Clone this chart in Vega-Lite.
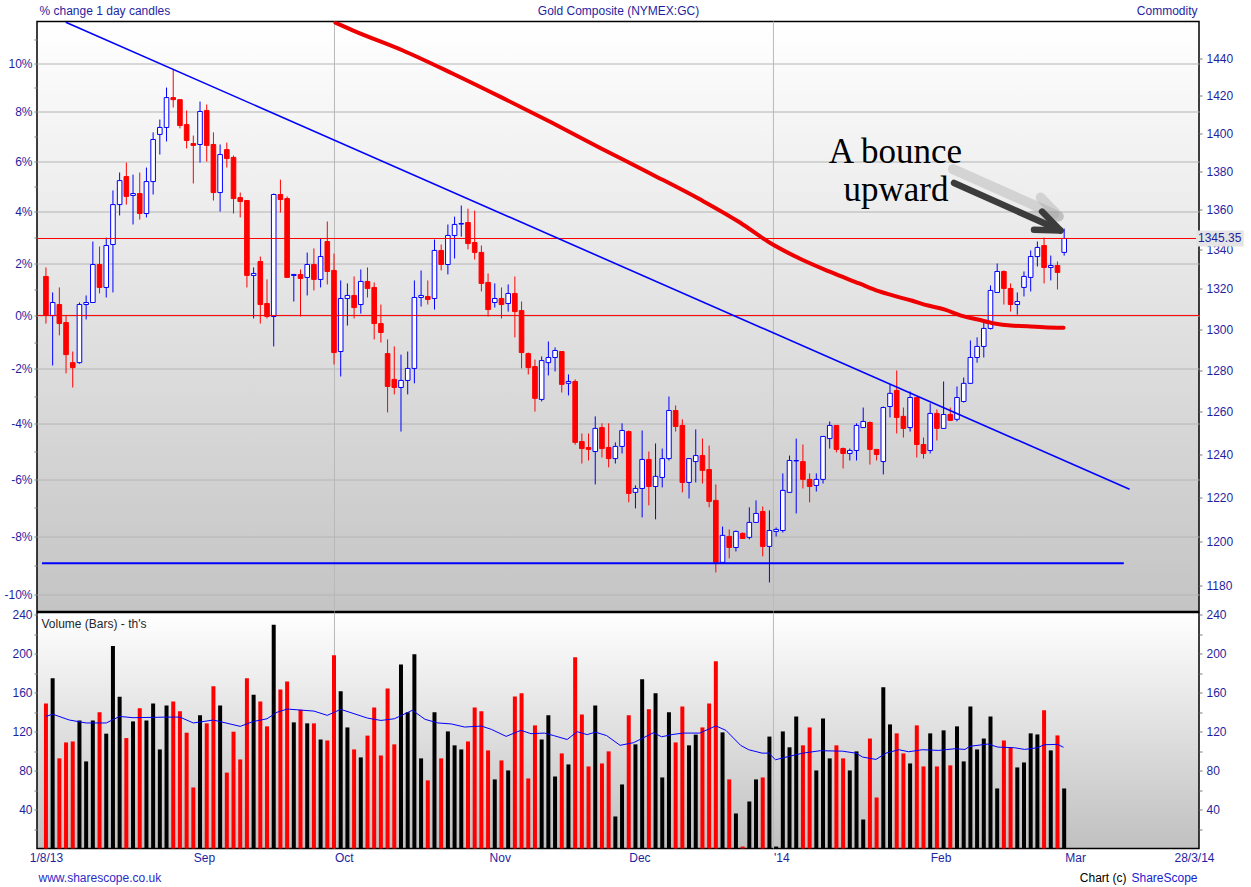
{
  "$schema": "https://vega.github.io/schema/vega-lite/v6.json",
  "padding": {"left": 3, "top": 3.5, "right": 0, "bottom": 0},
  "background": "#ffffff",
  "spacing": 1,
  "bounds": "flush",
  "config": {
    "font": "Liberation Sans",
    "axis": {
      "labelFont": "Liberation Sans", "labelFontSize": 12, "labelColor": "#1f1f9f",
      "titleFont": "Liberation Sans", "titleFontSize": 12, "titleFontWeight": "normal", "titleColor": "#1f1f9f",
      "tickColor": "#7a7a7a", "domain": false
    }
  },
  "datasets": {
    "candles": [
      {"t":0,"o":1326.2,"h":1330.7,"l":1302.8,"c":1306.8,"v":149},
      {"t":1,"o":1306.8,"h":1318.2,"l":1282.3,"c":1313.2,"v":175},
      {"t":2,"o":1312.2,"h":1320.7,"l":1297.0,"c":1302.8,"v":92.6},
      {"t":3,"o":1303.3,"h":1306.8,"l":1278.5,"c":1287.6,"v":109},
      {"t":4,"o":1283.7,"h":1289.1,"l":1271.7,"c":1281.3,"v":110},
      {"t":5,"o":1283.7,"h":1313.2,"l":1283.2,"c":1312.2,"v":131.6},
      {"t":6,"o":1312.2,"h":1316.7,"l":1304.8,"c":1313.2,"v":89.5},
      {"t":7,"o":1313.2,"h":1343.8,"l":1313.2,"c":1332.2,"v":131.6},
      {"t":8,"o":1332.2,"h":1341.3,"l":1317.7,"c":1320.7,"v":140},
      {"t":9,"o":1320.7,"h":1345.8,"l":1315.7,"c":1341.8,"v":118},
      {"t":10,"o":1342.3,"h":1370.0,"l":1318.2,"c":1362.7,"v":208},
      {"t":11,"o":1362.7,"h":1379.3,"l":1357.1,"c":1375.1,"v":156},
      {"t":12,"o":1377.2,"h":1384.5,"l":1362.7,"c":1366.9,"v":113.5},
      {"t":13,"o":1367.4,"h":1378.2,"l":1352.5,"c":1368.4,"v":130.6},
      {"t":14,"o":1368.4,"h":1379.3,"l":1355.0,"c":1358.1,"v":144},
      {"t":15,"o":1358.1,"h":1381.9,"l":1356.1,"c":1374.6,"v":131.6},
      {"t":16,"o":1374.6,"h":1400.4,"l":1367.9,"c":1396.6,"v":149},
      {"t":17,"o":1399.3,"h":1407.2,"l":1388.7,"c":1403.0,"v":101.8},
      {"t":18,"o":1403.0,"h":1424.3,"l":1395.6,"c":1418.9,"v":147},
      {"t":19,"o":1418.9,"h":1434.0,"l":1413.6,"c":1417.8,"v":151},
      {"t":20,"o":1417.8,"h":1417.8,"l":1402.5,"c":1404.0,"v":141},
      {"t":21,"o":1404.5,"h":1412.0,"l":1391.9,"c":1396.1,"v":119},
      {"t":22,"o":1394.5,"h":1398.7,"l":1373.6,"c":1393.5,"v":62.7},
      {"t":23,"o":1394.0,"h":1416.8,"l":1384.5,"c":1411.5,"v":136.8},
      {"t":24,"o":1412.0,"h":1415.2,"l":1385.0,"c":1393.5,"v":128.6},
      {"t":25,"o":1394.0,"h":1400.4,"l":1364.8,"c":1368.9,"v":166.6},
      {"t":26,"o":1368.9,"h":1394.0,"l":1359.1,"c":1388.7,"v":147},
      {"t":27,"o":1391.3,"h":1395.0,"l":1381.9,"c":1386.6,"v":78},
      {"t":28,"o":1387.2,"h":1388.2,"l":1358.1,"c":1365.8,"v":120},
      {"t":29,"o":1366.3,"h":1368.9,"l":1356.1,"c":1364.3,"v":91.5},
      {"t":30,"o":1364.8,"h":1364.8,"l":1320.7,"c":1326.7,"v":175},
      {"t":31,"o":1326.7,"h":1330.7,"l":1305.3,"c":1327.7,"v":158},
      {"t":32,"o":1333.7,"h":1336.2,"l":1302.8,"c":1312.2,"v":151},
      {"t":33,"o":1312.7,"h":1324.7,"l":1305.3,"c":1306.3,"v":125.5},
      {"t":34,"o":1306.3,"h":1368.4,"l":1291.6,"c":1367.9,"v":230},
      {"t":35,"o":1367.9,"h":1375.6,"l":1358.6,"c":1365.3,"v":163.5},
      {"t":36,"o":1365.8,"h":1366.9,"l":1325.7,"c":1325.7,"v":171.7},
      {"t":37,"o":1326.7,"h":1327.2,"l":1313.7,"c":1327.2,"v":129.6},
      {"t":38,"o":1327.2,"h":1329.7,"l":1306.3,"c":1325.2,"v":142.6},
      {"t":39,"o":1325.7,"h":1338.2,"l":1316.7,"c":1332.2,"v":128.6},
      {"t":40,"o":1332.2,"h":1340.3,"l":1319.2,"c":1324.7,"v":128.6},
      {"t":41,"o":1324.7,"h":1345.3,"l":1320.7,"c":1336.2,"v":112},
      {"t":42,"o":1343.8,"h":1354.0,"l":1322.2,"c":1328.7,"v":111},
      {"t":43,"o":1329.2,"h":1337.7,"l":1282.8,"c":1288.6,"v":198.5},
      {"t":44,"o":1289.1,"h":1324.2,"l":1277.0,"c":1315.2,"v":161.5},
      {"t":45,"o":1315.2,"h":1322.7,"l":1301.8,"c":1316.7,"v":124.4},
      {"t":46,"o":1316.7,"h":1326.2,"l":1305.3,"c":1310.7,"v":101.8},
      {"t":47,"o":1312.2,"h":1329.7,"l":1307.7,"c":1323.7,"v":93.6},
      {"t":48,"o":1323.7,"h":1330.7,"l":1315.7,"c":1320.2,"v":116},
      {"t":49,"o":1320.7,"h":1323.2,"l":1295.0,"c":1302.8,"v":145},
      {"t":50,"o":1302.8,"h":1312.2,"l":1293.5,"c":1298.4,"v":95.6},
      {"t":51,"o":1288.1,"h":1295.0,"l":1259.8,"c":1272.2,"v":164.5},
      {"t":52,"o":1275.6,"h":1291.6,"l":1268.4,"c":1271.7,"v":107},
      {"t":53,"o":1271.7,"h":1287.6,"l":1250.7,"c":1275.1,"v":189},
      {"t":54,"o":1275.1,"h":1289.1,"l":1268.4,"c":1280.9,"v":140},
      {"t":55,"o":1280.9,"h":1324.2,"l":1273.7,"c":1315.7,"v":199.5},
      {"t":56,"o":1315.7,"h":1329.2,"l":1311.2,"c":1316.7,"v":92.6},
      {"t":57,"o":1316.2,"h":1324.2,"l":1312.2,"c":1314.7,"v":70},
      {"t":58,"o":1315.2,"h":1344.8,"l":1309.7,"c":1339.3,"v":140},
      {"t":59,"o":1339.3,"h":1342.3,"l":1329.2,"c":1332.2,"v":92.6},
      {"t":60,"o":1332.2,"h":1352.5,"l":1327.2,"c":1346.9,"v":120.3},
      {"t":61,"o":1346.9,"h":1356.5,"l":1335.2,"c":1352.5,"v":106},
      {"t":62,"o":1352.7,"h":1362.2,"l":1346.3,"c":1353.0,"v":101.8},
      {"t":63,"o":1353.5,"h":1360.6,"l":1339.8,"c":1342.8,"v":110},
      {"t":64,"o":1343.3,"h":1359.6,"l":1334.7,"c":1338.3,"v":145},
      {"t":65,"o":1338.3,"h":1341.8,"l":1318.7,"c":1322.7,"v":141},
      {"t":66,"o":1323.2,"h":1327.7,"l":1306.3,"c":1309.7,"v":100.8},
      {"t":67,"o":1313.2,"h":1322.7,"l":1310.7,"c":1315.2,"v":71},
      {"t":68,"o":1315.2,"h":1320.7,"l":1305.3,"c":1312.2,"v":90.5},
      {"t":69,"o":1312.7,"h":1322.2,"l":1308.7,"c":1317.7,"v":80.2},
      {"t":70,"o":1317.7,"h":1326.2,"l":1296.0,"c":1308.7,"v":156.3},
      {"t":71,"o":1309.2,"h":1313.7,"l":1280.9,"c":1288.6,"v":159.4},
      {"t":72,"o":1288.1,"h":1288.6,"l":1278.0,"c":1281.3,"v":72},
      {"t":73,"o":1281.8,"h":1285.2,"l":1260.2,"c":1266.5,"v":126.5},
      {"t":74,"o":1266.0,"h":1286.7,"l":1265.0,"c":1284.7,"v":112},
      {"t":75,"o":1283.7,"h":1294.0,"l":1277.5,"c":1286.2,"v":136.8},
      {"t":76,"o":1286.2,"h":1291.1,"l":1279.4,"c":1289.6,"v":74},
      {"t":77,"o":1289.1,"h":1289.1,"l":1269.3,"c":1273.2,"v":97.7},
      {"t":78,"o":1273.7,"h":1278.0,"l":1267.9,"c":1274.6,"v":86.4},
      {"t":79,"o":1274.6,"h":1275.6,"l":1244.5,"c":1245.6,"v":196.4},
      {"t":80,"o":1246.0,"h":1249.8,"l":1235.7,"c":1242.7,"v":137.8},
      {"t":81,"o":1243.2,"h":1249.8,"l":1237.1,"c":1242.3,"v":84.3},
      {"t":82,"o":1241.3,"h":1257.9,"l":1226.0,"c":1252.2,"v":147},
      {"t":83,"o":1252.6,"h":1254.6,"l":1238.5,"c":1242.7,"v":87.4},
      {"t":84,"o":1243.2,"h":1254.6,"l":1233.9,"c":1238.0,"v":99.8},
      {"t":85,"o":1238.0,"h":1245.6,"l":1235.7,"c":1243.7,"v":32.9},
      {"t":86,"o":1243.7,"h":1254.6,"l":1240.4,"c":1251.2,"v":65.8},
      {"t":87,"o":1250.7,"h":1251.2,"l":1217.7,"c":1221.8,"v":136.8},
      {"t":88,"o":1222.3,"h":1225.5,"l":1214.9,"c":1224.1,"v":107},
      {"t":89,"o":1224.1,"h":1251.2,"l":1210.8,"c":1237.6,"v":173.8},
      {"t":90,"o":1237.6,"h":1241.3,"l":1216.3,"c":1225.0,"v":143},
      {"t":91,"o":1225.0,"h":1245.1,"l":1209.9,"c":1229.7,"v":159.4},
      {"t":92,"o":1229.2,"h":1242.7,"l":1224.6,"c":1238.0,"v":73},
      {"t":93,"o":1238.0,"h":1267.4,"l":1237.1,"c":1260.7,"v":140},
      {"t":94,"o":1260.7,"h":1263.1,"l":1250.7,"c":1253.1,"v":109},
      {"t":95,"o":1253.6,"h":1256.5,"l":1222.3,"c":1226.9,"v":146},
      {"t":96,"o":1226.9,"h":1238.0,"l":1219.5,"c":1238.0,"v":106},
      {"t":97,"o":1236.6,"h":1251.7,"l":1226.9,"c":1239.4,"v":117},
      {"t":98,"o":1239.4,"h":1247.4,"l":1226.4,"c":1232.5,"v":124.4},
      {"t":99,"o":1232.9,"h":1244.1,"l":1215.4,"c":1218.1,"v":149},
      {"t":100,"o":1218.6,"h":1226.0,"l":1185.9,"c":1190.4,"v":192.3},
      {"t":101,"o":1190.4,"h":1206.6,"l":1190.4,"c":1202.6,"v":119.3},
      {"t":102,"o":1202.1,"h":1205.3,"l":1192.2,"c":1197.1,"v":71},
      {"t":103,"o":1197.1,"h":1204.8,"l":1195.3,"c":1204.4,"v":36},
      {"t":104,"o":1203.5,"h":1203.9,"l":1201.2,"c":1201.2,"v":2},
      {"t":105,"o":1201.7,"h":1215.4,"l":1200.8,"c":1208.5,"v":48.3},
      {"t":106,"o":1208.5,"h":1218.6,"l":1208.5,"c":1212.6,"v":71},
      {"t":107,"o":1213.5,"h":1215.8,"l":1193.1,"c":1197.6,"v":73},
      {"t":108,"o":1197.6,"h":1214.0,"l":1181.4,"c":1204.8,"v":115},
      {"t":109,"o":1204.4,"h":1206.2,"l":1202.1,"c":1205.3,"v":2},
      {"t":110,"o":1204.8,"h":1231.1,"l":1203.9,"c":1223.2,"v":120.3},
      {"t":111,"o":1222.3,"h":1239.4,"l":1222.3,"c":1237.1,"v":104},
      {"t":112,"o":1236.9,"h":1247.4,"l":1212.6,"c":1237.1,"v":135.7},
      {"t":113,"o":1236.6,"h":1244.6,"l":1224.1,"c":1228.3,"v":106},
      {"t":114,"o":1228.3,"h":1231.1,"l":1217.7,"c":1225.0,"v":124.4},
      {"t":115,"o":1225.5,"h":1231.1,"l":1222.7,"c":1228.3,"v":80.2},
      {"t":116,"o":1228.3,"h":1248.4,"l":1226.4,"c":1248.4,"v":133.7},
      {"t":117,"o":1247.4,"h":1255.5,"l":1242.7,"c":1253.6,"v":92.6},
      {"t":118,"o":1253.6,"h":1253.6,"l":1240.9,"c":1242.3,"v":106},
      {"t":119,"o":1242.7,"h":1243.2,"l":1233.4,"c":1240.4,"v":92.6},
      {"t":120,"o":1240.4,"h":1242.7,"l":1237.1,"c":1241.8,"v":80.2},
      {"t":121,"o":1241.8,"h":1254.6,"l":1237.1,"c":1253.6,"v":99.8},
      {"t":122,"o":1252.6,"h":1262.1,"l":1252.6,"c":1255.5,"v":29.8},
      {"t":123,"o":1255.0,"h":1255.5,"l":1235.2,"c":1242.3,"v":113},
      {"t":124,"o":1242.3,"h":1242.3,"l":1237.1,"c":1239.9,"v":52.4},
      {"t":125,"o":1236.6,"h":1262.6,"l":1230.6,"c":1262.1,"v":165.6},
      {"t":126,"o":1262.6,"h":1273.2,"l":1257.4,"c":1268.9,"v":127.5},
      {"t":127,"o":1270.3,"h":1279.9,"l":1249.8,"c":1257.4,"v":118.3},
      {"t":128,"o":1257.9,"h":1262.1,"l":1247.9,"c":1252.2,"v":97.7},
      {"t":129,"o":1252.6,"h":1269.8,"l":1250.7,"c":1266.9,"v":87.4},
      {"t":130,"o":1266.9,"h":1266.9,"l":1238.5,"c":1244.6,"v":126.5},
      {"t":131,"o":1244.6,"h":1247.9,"l":1238.0,"c":1240.4,"v":84.3},
      {"t":132,"o":1241.8,"h":1264.1,"l":1240.4,"c":1259.3,"v":118.3},
      {"t":133,"o":1259.3,"h":1261.2,"l":1246.5,"c":1252.2,"v":84.3},
      {"t":134,"o":1252.2,"h":1274.6,"l":1252.2,"c":1258.8,"v":121.4},
      {"t":135,"o":1258.8,"h":1262.1,"l":1256.0,"c":1256.0,"v":85.4},
      {"t":136,"o":1256.5,"h":1272.2,"l":1255.5,"c":1266.9,"v":125.5},
      {"t":137,"o":1265.0,"h":1276.5,"l":1264.5,"c":1273.7,"v":89.5},
      {"t":138,"o":1273.7,"h":1294.5,"l":1273.7,"c":1286.2,"v":146},
      {"t":139,"o":1286.2,"h":1296.0,"l":1283.7,"c":1291.6,"v":101.8},
      {"t":140,"o":1291.6,"h":1303.8,"l":1286.2,"c":1300.4,"v":113},
      {"t":141,"o":1300.4,"h":1321.7,"l":1299.9,"c":1319.2,"v":135.7},
      {"t":142,"o":1318.2,"h":1332.7,"l":1318.2,"c":1328.7,"v":61.7},
      {"t":143,"o":1328.7,"h":1329.2,"l":1312.2,"c":1320.2,"v":111},
      {"t":144,"o":1320.2,"h":1322.7,"l":1308.7,"c":1312.2,"v":104},
      {"t":145,"o":1312.2,"h":1318.2,"l":1307.2,"c":1313.7,"v":83.3},
      {"t":146,"o":1320.7,"h":1328.7,"l":1316.2,"c":1326.2,"v":88.4},
      {"t":147,"o":1325.7,"h":1339.3,"l":1318.7,"c":1336.2,"v":118.3},
      {"t":148,"o":1336.2,"h":1343.8,"l":1331.2,"c":1340.8,"v":117.2},
      {"t":149,"o":1341.8,"h":1345.8,"l":1322.7,"c":1330.7,"v":142},
      {"t":150,"o":1330.7,"h":1336.7,"l":1324.2,"c":1331.7,"v":100.8},
      {"t":151,"o":1331.7,"h":1333.7,"l":1319.7,"c":1328.2,"v":116.2},
      {"t":152,"o":1338.3,"h":1350.4,"l":1336.7,"c":1345.35,"v":61.7}
    ],
    "volma": [
      {"t":0,"v":135.7},{"t":1,"v":138},{"t":3.5,"v":132},{"t":6,"v":129},{"t":9,"v":129},
      {"t":11,"v":135.7},{"t":13,"v":134.4},{"t":18,"v":135},{"t":20,"v":135},{"t":22,"v":129},
      {"t":25,"v":132},{"t":29,"v":125.5},{"t":31,"v":130.6},{"t":33,"v":133.3},{"t":34.5,"v":140},
      {"t":36,"v":143.3},{"t":40,"v":141.2},{"t":42,"v":136.8},{"t":44,"v":143},{"t":46,"v":138.5},
      {"t":48,"v":134},{"t":50,"v":131.6},{"t":52,"v":133.3},{"t":54.7,"v":142},{"t":56.6,"v":132.7},
      {"t":58.5,"v":129},{"t":60.5,"v":128},{"t":62.5,"v":124.8},{"t":65,"v":125.8},{"t":66.5,"v":122.4},
      {"t":68.7,"v":115.2},{"t":70.9,"v":121.4},{"t":72.4,"v":118},{"t":74.4,"v":118.6},{"t":75.8,"v":116},
      {"t":77.8,"v":112},{"t":79.3,"v":120},{"t":80.8,"v":117},{"t":82,"v":119.6},{"t":83.7,"v":116},
      {"t":85.7,"v":106},{"t":87.7,"v":108.7},{"t":89.2,"v":113.8},{"t":90.7,"v":119},{"t":91.9,"v":114.8},
      {"t":93.6,"v":117.2},{"t":95.1,"v":118.6},{"t":97.6,"v":118.6},{"t":100,"v":126},{"t":101.5,"v":121.4},
      {"t":103.7,"v":106},{"t":104.9,"v":101.5},{"t":106.9,"v":98},{"t":107.9,"v":98},{"t":108.9,"v":91.2},
      {"t":110.9,"v":94.6},{"t":113,"v":98},{"t":115.6,"v":100.5},{"t":118.9,"v":100},{"t":120.9,"v":98},
      {"t":121.9,"v":94},{"t":123.9,"v":91.5},{"t":125.4,"v":98},{"t":127.3,"v":101.5},{"t":128.8,"v":99.4},
      {"t":130.8,"v":101.5},{"t":133.3,"v":100.8},{"t":135.7,"v":102.5},{"t":137.2,"v":101.8},{"t":137.9,"v":105},
      {"t":140.6,"v":107.3},{"t":142.1,"v":104.2},{"t":144.6,"v":103.5},{"t":146.1,"v":101.8},{"t":148,"v":103.5},
      {"t":149,"v":106.6},{"t":151,"v":107},{"t":151.9,"v":104}
    ],
    "ma200": [
      {"t":43.21,"p":1459.7},{"t":45.88,"p":1455.3},{"t":53.28,"p":1444.4},{"t":60.68,"p":1431.9},
      {"t":68.08,"p":1418.9},{"t":75.48,"p":1405.6},{"t":82.88,"p":1391.9},{"t":90.28,"p":1378.7},
      {"t":97.68,"p":1365.3},{"t":103.6,"p":1353.5},{"t":108.0,"p":1343.3},{"t":112.5,"p":1335.2},
      {"t":116.9,"p":1328.7},{"t":121.4,"p":1322.7},{"t":124.3,"p":1318.85},{"t":126.8,"p":1316.35},
      {"t":129.2,"p":1314.2},{"t":131.7,"p":1311.7},{"t":134.2,"p":1309.7},{"t":136.6,"p":1306.75},
      {"t":139.1,"p":1304.8},{"t":141.6,"p":1302.8},{"t":144.0,"p":1301.8},{"t":146.5,"p":1301.5},
      {"t":149.0,"p":1301.0},{"t":151.9,"p":1300.7}
    ]
  },
  "vconcat": [
    {
      "width": 1162,
      "height": 590,
      "view": {
        "stroke": "#000000", "strokeWidth": 1.5,
        "fill": {"gradient": "linear", "x1": 0, "y1": 0, "x2": 0, "y2": 1,
                 "stops": [{"offset": 0, "color": "#ffffff"}, {"offset": 1, "color": "#c4c4c4"}]}
      },
      "layer": [
        {
          "data": {"values": [{"t": 43.07}, {"t": 108.6}]},
          "mark": {"type": "rule", "color": "#b9b9b9", "strokeWidth": 1},
          "encoding": {
            "x": {"field": "t", "type": "quantitative", "scale": {"domain": [-0.59, 171.38], "nice": false, "zero": false}, "axis": null}
          }
        },
        {
          "data": {"name": "candles"},
          "mark": {"type": "rule", "strokeWidth": 1},
          "encoding": {
            "x": {"field": "t", "type": "quantitative", "scale": {"domain": [-0.59, 171.38], "nice": false, "zero": false},
                  "axis": {"orient": "top", "labels": false, "ticks": false, "domain": false, "grid": false,
                           "title": "Gold Composite (NYMEX:GC)", "titlePadding": 4}},
            "y": {"field": "l", "type": "quantitative", "scale": {"type": "log", "domain": [1168.5, 1460.3], "nice": false},
                  "axis": {"orient": "left",
                           "values": [1176.12, 1189.19, 1202.26, 1215.32, 1228.39, 1241.46, 1254.53, 1267.6, 1280.66, 1293.73, 1306.8, 1319.87, 1332.94, 1346.0, 1359.07, 1372.14, 1385.21, 1398.28, 1411.34, 1424.41, 1437.48, 1450.55],
                           "labelExpr": "(round((datum.value/1306.8-1)*100) % 2) != 0 ? '' : round((datum.value/1306.8-1)*100) + '%'",
                           "tickSize": 3, "labelPadding": 2,
                           "grid": true, "gridColor": "#b4b4b4",
                           "gridOpacity": {"condition": {"test": "(round((datum.value/1306.8-1)*100) % 2) != 0", "value": 0}, "value": 1},
                           "title": "% change 1 day candles", "titleAngle": 0, "titleX": 2, "titleY": -7,
                           "titleAlign": "left", "titleBaseline": "alphabetic"}},
            "y2": {"field": "h"},
            "stroke": {"condition": {"test": "datum.c >= datum.o", "value": "#0000ff"}, "value": "#ff0000"}
          }
        },
        {
          "data": {"name": "candles"},
          "mark": {"type": "bar", "size": 4.6, "strokeWidth": 1},
          "encoding": {
            "x": {"field": "t", "type": "quantitative", "scale": {"domain": [-0.59, 171.38], "nice": false, "zero": false}, "axis": null},
            "y": {"field": "o", "type": "quantitative", "scale": {"type": "log", "domain": [1168.5, 1460.3], "nice": false},
                  "axis": {"orient": "right",
                           "values": [1180, 1200, 1220, 1240, 1260, 1280, 1300, 1320, 1340, 1360, 1380, 1400, 1420, 1440],
                           "format": "d", "tickSize": 3, "labelPadding": 4, "grid": false,
                           "title": "Commodity", "titleAngle": 0, "titleX": -2, "titleY": -7,
                           "titleAlign": "right", "titleBaseline": "alphabetic"}},
            "y2": {"field": "c"},
            "fill": {"condition": {"test": "datum.c >= datum.o", "value": "#ffffff"}, "value": "#ff0000"},
            "stroke": {"condition": {"test": "datum.c >= datum.o", "value": "#0000ff"}, "value": "#ff0000"}
          }
        },
        {
          "data": {"values": [{"p": 1306.8}, {"p": 1345.35}]},
          "mark": {"type": "rule", "color": "#ff0000", "strokeWidth": 1},
          "encoding": {
            "y": {"field": "p", "type": "quantitative", "scale": {"type": "log", "domain": [1168.5, 1460.3], "nice": false}, "axis": null}
          }
        },
        {
          "data": {"values": [{"t": -0.59, "p": 1190.0}, {"t": 160.9, "p": 1190.0}]},
          "mark": {"type": "line", "color": "#0000ff", "strokeWidth": 2, "clip": true},
          "encoding": {
            "x": {"field": "t", "type": "quantitative", "scale": {"domain": [-0.59, 171.38], "nice": false, "zero": false}, "axis": null},
            "y": {"field": "p", "type": "quantitative", "scale": {"type": "log", "domain": [1168.5, 1460.3], "nice": false}, "axis": null}
          }
        },
        {
          "data": {"values": [{"t": 2.96, "p": 1459.9}, {"t": 161.76, "p": 1223.7}]},
          "mark": {"type": "line", "color": "#0000ff", "strokeWidth": 1.6, "clip": true},
          "encoding": {
            "x": {"field": "t", "type": "quantitative", "scale": {"domain": [-0.59, 171.38], "nice": false, "zero": false}, "axis": null},
            "y": {"field": "p", "type": "quantitative", "scale": {"type": "log", "domain": [1168.5, 1460.3], "nice": false}, "axis": null}
          }
        },
        {
          "data": {"name": "ma200"},
          "mark": {"type": "line", "color": "#ee0000", "strokeWidth": 4, "strokeCap": "round", "clip": true, "interpolate": "monotone"},
          "encoding": {
            "x": {"field": "t", "type": "quantitative", "scale": {"domain": [-0.59, 171.38], "nice": false, "zero": false}, "axis": null},
            "y": {"field": "p", "type": "quantitative", "scale": {"type": "log", "domain": [1168.5, 1460.3], "nice": false}, "axis": null}
          }
        },
        {
          "data": {"values": [{"t": 126.8, "p": 1384.2, "txt": "A bounce"}, {"t": 126.9, "p": 1364.8, "txt": "upward"}]},
          "mark": {"type": "text", "font": "Liberation Serif", "fontSize": 35, "align": "center", "baseline": "alphabetic", "color": "#000000"},
          "encoding": {
            "x": {"field": "t", "type": "quantitative", "scale": {"domain": [-0.59, 171.38], "nice": false, "zero": false}, "axis": null},
            "y": {"field": "p", "type": "quantitative", "scale": {"type": "log", "domain": [1168.5, 1460.3], "nice": false}, "axis": null},
            "text": {"field": "txt"}
          }
        },
        {
          "data": {"values": [
            {"t1": 135.4, "p1": 1381.1, "t2": 150.5, "p2": 1357.8},
            {"t1": 147.3, "p1": 1357.0, "t2": 151.2, "p2": 1356.6},
            {"t1": 148.5, "p1": 1366.3, "t2": 151.2, "p2": 1356.6}
          ]},
          "mark": {"type": "rule", "color": "#a0a0a0", "opacity": 0.35, "strokeWidth": 10, "strokeCap": "round"},
          "encoding": {
            "x": {"field": "t1", "type": "quantitative", "scale": {"domain": [-0.59, 171.38], "nice": false, "zero": false}, "axis": null},
            "x2": {"field": "t2"},
            "y": {"field": "p1", "type": "quantitative", "scale": {"type": "log", "domain": [1168.5, 1460.3], "nice": false}, "axis": null},
            "y2": {"field": "p2"}
          }
        },
        {
          "data": {"values": [
            {"t1": 135.56, "p1": 1373.9, "t2": 150.7, "p2": 1350.6},
            {"t1": 147.5, "p1": 1349.8, "t2": 151.45, "p2": 1349.4},
            {"t1": 148.7, "p1": 1359.1, "t2": 151.45, "p2": 1349.4}
          ]},
          "mark": {"type": "rule", "color": "#3c3c3c", "strokeWidth": 6.5, "strokeCap": "round"},
          "encoding": {
            "x": {"field": "t1", "type": "quantitative", "scale": {"domain": [-0.59, 171.38], "nice": false, "zero": false}, "axis": null},
            "x2": {"field": "t2"},
            "y": {"field": "p1", "type": "quantitative", "scale": {"type": "log", "domain": [1168.5, 1460.3], "nice": false}, "axis": null},
            "y2": {"field": "p2"}
          }
        },
        {
          "data": {"values": [{"t1": 171.67, "t2": 178.8, "p1": 1349.4, "p2": 1341.3}]},
          "mark": {"type": "rect", "color": "#e4e4e4"},
          "encoding": {
            "x": {"field": "t1", "type": "quantitative", "scale": {"domain": [-0.59, 171.38], "nice": false, "zero": false}, "axis": null},
            "x2": {"field": "t2"},
            "y": {"field": "p1", "type": "quantitative", "scale": {"type": "log", "domain": [1168.5, 1460.3], "nice": false}, "axis": null},
            "y2": {"field": "p2"}
          }
        },
        {
          "data": {"values": [{"t": 171.97, "p": 1345.35, "txt": "1345.35"}]},
          "mark": {"type": "text", "font": "Liberation Sans", "fontSize": 12, "align": "left", "baseline": "middle", "color": "#1f1f9f"},
          "encoding": {
            "x": {"field": "t", "type": "quantitative", "scale": {"domain": [-0.59, 171.38], "nice": false, "zero": false}, "axis": null},
            "y": {"field": "p", "type": "quantitative", "scale": {"type": "log", "domain": [1168.5, 1460.3], "nice": false}, "axis": null},
            "text": {"field": "txt"}
          }
        }
      ],
      "resolve": {"axis": {"x": "independent", "y": "independent"}}
    },
    {
      "width": 1162,
      "height": 236,
      "view": {
        "stroke": "#000000", "strokeWidth": 1.5,
        "fill": {"gradient": "linear", "x1": 0, "y1": 0, "x2": 0, "y2": 1,
                 "stops": [{"offset": 0, "color": "#ffffff"}, {"offset": 1, "color": "#c0c0c0"}]}
      },
      "layer": [
        {
          "data": {"values": [{"t": 43.07}, {"t": 108.6}]},
          "mark": {"type": "rule", "color": "#b9b9b9", "strokeWidth": 1},
          "encoding": {
            "x": {"field": "t", "type": "quantitative", "scale": {"domain": [-0.59, 171.38], "nice": false, "zero": false}, "axis": null}
          }
        },
        {
          "data": {"name": "candles"},
          "mark": {"type": "bar", "size": 4},
          "encoding": {
            "x": {"field": "t", "type": "quantitative", "scale": {"domain": [-0.59, 171.38], "nice": false, "zero": false},
                  "axis": {"orient": "bottom",
                           "values": [0, 22, 43.07, 66.15, 87, 108.6, 132, 152.1, 171.38],
                           "labelExpr": "datum.value < 1 ? '1/8/13' : datum.value < 30 ? 'Sep' : datum.value < 50 ? 'Oct' : datum.value < 70 ? 'Nov' : datum.value < 100 ? 'Dec' : datum.value < 120 ? \"'14\" : datum.value < 140 ? 'Feb' : datum.value < 160 ? 'Mar' : '28/3/14'",
                           "labelAlign": {"condition": {"test": "datum.value < 1 || datum.value > 170", "value": "center"}, "value": "left"},
                           "labelFlush": false, "labelOverlap": false, "ticks": false, "grid": false,
                           "labelPadding": 4, "labelBaseline": "top",
                           "title": "www.sharescope.co.uk", "titleX": 1, "titleY": 33, "titleAlign": "left",
                           "titleAnchor": "start", "titleBaseline": "alphabetic", "titleColor": "#2a2ac8"}},
            "y": {"field": "v", "type": "quantitative", "scale": {"domain": [0, 242.5], "nice": false},
                  "axis": {"orient": "left",
                           "values": [20, 40, 60, 80, 100, 120, 140, 160, 180, 200, 220, 240],
                           "format": "d", "labelExpr": "datum.value % 40 == 0 ? datum.label : ''",
                           "tickSize": 3, "labelPadding": 2, "grid": false,
                           "title": "Volume (Bars) - th's", "titleAngle": 0, "titleX": 4, "titleY": 15,
                           "titleAlign": "left", "titleBaseline": "alphabetic", "titleColor": "#262626"}},
            "color": {"condition": {"test": "datum.c >= datum.o", "value": "#000000"}, "value": "#ff0000"}
          }
        },
        {
          "data": {"name": "volma"},
          "mark": {"type": "line", "color": "#0000ff", "strokeWidth": 1},
          "encoding": {
            "x": {"field": "t", "type": "quantitative", "scale": {"domain": [-0.59, 171.38], "nice": false, "zero": false},
                  "axis": {"orient": "top", "labels": false, "ticks": false, "domain": false, "grid": false,
                           "minExtent": 0, "maxExtent": 0,
                           "title": "Chart (c)", "titleX": 1089, "titleY": 269, "titleAlign": "right",
                           "titleAnchor": "start", "titleBaseline": "alphabetic", "titleColor": "#000000"}},
            "y": {"field": "v", "type": "quantitative", "scale": {"domain": [0, 242.5], "nice": false},
                  "axis": {"orient": "right",
                           "values": [20, 40, 60, 80, 100, 120, 140, 160, 180, 200, 220, 240],
                           "format": "d", "labelExpr": "datum.value % 40 == 0 ? datum.label : ''",
                           "tickSize": 3, "labelPadding": 4, "grid": false,
                           "title": "ShareScope", "titleAngle": 0, "titleX": -2, "titleY": 269,
                           "titleAlign": "right", "titleBaseline": "alphabetic", "titleColor": "#1a1ad0"}}
          }
        }
      ],
      "resolve": {"axis": {"x": "independent", "y": "independent"}}
    }
  ]
}
